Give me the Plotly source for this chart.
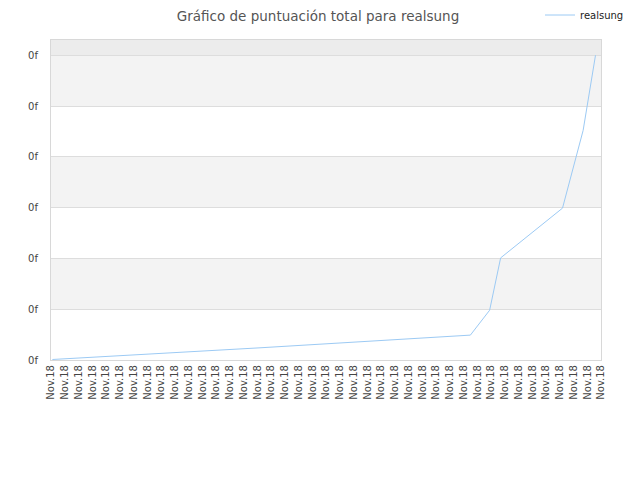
import plotly.graph_objects as go

# chart data
day_labels = ["Nov.18"] * 41
day_ticks = list(range(41))
y_ticks = [0, 1, 2, 3, 4, 5, 6]
y_tick_text = ["0f"] * 7

score_x = [0.1, 15.2, 30.5, 31.9, 32.7, 37.2, 38.7, 39.6]
score_y = [0.01, 0.24, 0.49, 0.98, 2.01, 2.99, 4.52, 6.0]

fig = go.Figure()
fig.add_trace(go.Scatter(
    x=score_x, y=score_y, mode="lines", name="realsung",
    line=dict(color="#9ccaf4", width=1),
))

# alternating grey bands behind the plot
shapes = []
for lo in [1, 3, 5]:
    shapes.append(dict(type="rect", xref="paper", yref="y", x0=0, x1=1, y0=lo, y1=lo + 1,
                       fillcolor="#f3f3f3", line_width=0, layer="below"))
shapes.append(dict(type="rect", xref="paper", yref="y", x0=0, x1=1, y0=6, y1=6.3,
                   fillcolor="#ececec", line_width=0, layer="below"))

# the page body adds an 8px margin, so the figure is 8px smaller each way
W, H = 632, 472

fig.update_layout(
    width=W, height=H,
    margin=dict(l=43, r=39, t=32, b=120, autoexpand=False),
    paper_bgcolor="white", plot_bgcolor="white",
    font=dict(family="DejaVu Sans", size=10, color="#444"),
    title=dict(text="Gráfico de puntuación total para realsung", x=310 / W, xref="container",
               xanchor="center", y=1 - 3.5 / H, yanchor="top", yref="container",
               pad=dict(t=0, b=0, l=0, r=0),
               font=dict(size=13.5, color="#555")),
    showlegend=True,
    legend=dict(xref="container", yref="container", x=621 / W, xanchor="right",
                y=1 - 7 / H, yanchor="middle", bgcolor="rgba(0,0,0,0)",
                font=dict(size=10, color="#222"), itemwidth=30),
    shapes=shapes,
    xaxis=dict(range=[0, 40], tickmode="array", tickvals=day_ticks, ticktext=day_labels,
               tickangle=-90, showgrid=False, zeroline=False, showline=True, automargin=False,
               linecolor="#d8d8d8", mirror=True, ticks="", tickfont=dict(size=10, color="#444")),
    yaxis=dict(range=[0, 6.3], tickmode="array", tickvals=y_ticks, ticktext=y_tick_text,
               showgrid=True, gridcolor="#dddddd", zeroline=False, showline=True, automargin=False,
               linecolor="#d8d8d8", mirror=True, ticks="", ticklabelstandoff=10,
               tickfont=dict(size=10, color="#444")),
)

fig.write_html("out.html")
